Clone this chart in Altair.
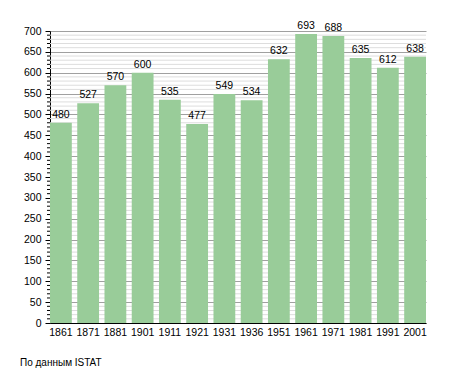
import altair as alt
import pandas as pd

years = ["1861", "1871", "1881", "1901", "1911", "1921", "1931", "1936",
         "1951", "1961", "1971", "1981", "1991", "2001"]
population = [480, 527, 570, 600, 535, 477, 549, 534, 632, 693, 688, 635, 612, 638]
major_ticks = list(range(0, 701, 50))
minor_ticks = [v for v in range(0, 701, 10) if v % 50 != 0]

df = pd.DataFrame({"year": years, "pop": population})
minor_df = pd.DataFrame({"v": minor_ticks})

FONT = "Liberation Sans"
BAR = "#99cc99"

yscale = alt.Scale(domain=[0, 700], nice=False, zero=True)
xscale = alt.Scale(paddingInner=0.2, paddingOuter=0)
yaxis = alt.Axis(values=major_ticks, tickSize=5, tickColor="#000000",
                 domainColor="#000000", grid=True, gridColor="#a0a0a0",
                 labelFont=FONT, labelFontSize=10.5, labelColor="#000000",
                 labelPadding=4)

minor_grid = alt.Chart(minor_df).mark_rule(color="#dddddd", strokeWidth=1).encode(
    y=alt.Y("v:Q", scale=yscale, axis=yaxis, title=None),
    x=alt.value(0),
    x2=alt.value(376),
)
minor_tick = alt.Chart(minor_df).mark_rule(color="#000000", strokeWidth=1).encode(
    y=alt.Y("v:Q", scale=yscale, axis=yaxis, title=None),
    x=alt.value(-3),
    x2=alt.value(0),
)

bars = alt.Chart(df).mark_bar(color=BAR).encode(
    x=alt.X("year:N", sort=years, scale=xscale, title=None,
            axis=alt.Axis(labelAngle=0, ticks=False, domainColor="#000000",
                          labelFont=FONT, labelFontSize=10.5, labelColor="#000000",
                          labelPadding=4, domainWidth=1)),
    y=alt.Y("pop:Q", scale=yscale, title=None, axis=yaxis),
)

labels = alt.Chart(df).mark_text(baseline="alphabetic", dy=-5, font=FONT,
                                 fontSize=10.5, color="#000000").encode(
    x=alt.X("year:N", sort=years, scale=xscale),
    y=alt.Y("pop:Q", scale=yscale, axis=yaxis, title=None),
    text="pop:Q",
)

chart = alt.layer(minor_grid, minor_tick, bars, labels).properties(
    width=376,
    height=292,
    autosize=alt.AutoSizeParams(type="none"),
    padding={"left": 42, "top": 23, "right": 20, "bottom": 50},
    title=alt.TitleParams("По данным  ISTAT", orient="bottom", anchor="start",
                          frame="group", dx=-30, offset=20, font=FONT, fontSize=10,
                          fontWeight="normal", color="#000000"),
).configure_view(stroke=None).configure_axis(domainWidth=1)

chart.save("out.html", embed_options={"renderer": "svg", "actions": False})
